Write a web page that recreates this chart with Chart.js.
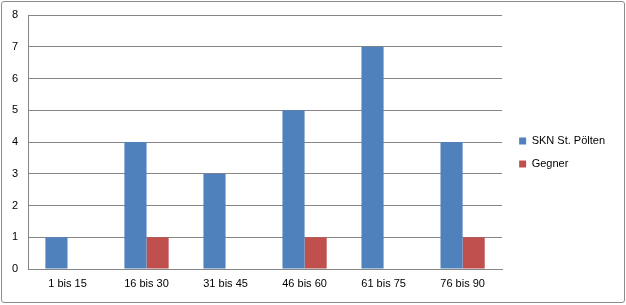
<!DOCTYPE html>
<html>
<head>
<meta charset="utf-8">
<script src="https://cdn.jsdelivr.net/npm/chart.js@4/dist/chart.umd.min.js"></script>
<style>
  body { margin: 0; background: #fff; }
  #box { position: absolute; left: 1px; top: 1px; width: 622px; height: 300px; border: 1px solid #8c8c8c; border-radius: 3px; }
</style>
</head>
<body>
<div id="box"><canvas id="chart" width="622" height="300"></canvas></div>
<script>
const categories = ['1 bis 15', '16 bis 30', '31 bis 45', '46 bis 60', '61 bis 75', '76 bis 90'];
const sknValues = [1, 4, 3, 5, 7, 4];
const gegnerValues = [0, 1, 0, 1, 0, 1];
const yTicks = [0, 1, 2, 3, 4, 5, 6, 7, 8];

const font = { family: 'Liberation Sans', size: 11 };

// nudge the legend a bit to the right, like the original
const legendShift = {
  id: 'legendShift',
  afterLayout(chart) {
    const l = chart.legend;
    l.left += 5; l.right += 5;
    l.top += 1; l.bottom += 1;
  }
};

const ctx = document.getElementById('chart').getContext('2d');
const chart = new Chart(ctx, {
  type: 'bar',
  data: {
    labels: categories,
    datasets: [
      {
        label: 'SKN St. Pölten',
        data: sknValues,
        backgroundColor: '#4F81BD',
        categoryPercentage: 0.56,
        barPercentage: 1.0
      },
      {
        label: 'Gegner',
        data: gegnerValues,
        backgroundColor: '#C0504D',
        categoryPercentage: 0.56,
        barPercentage: 1.0
      }
    ]
  },
  options: {
    responsive: false,
    animation: false,
    layout: { padding: { top: 13, right: 14, bottom: 14, left: 0 } },
    plugins: {
      legend: {
        position: 'right',
        labels: {
          font: font,
          color: '#000',
          boxWidth: 7,
          boxHeight: 7,
          padding: 12
        }
      },
      tooltip: { enabled: false }
    },
    scales: {
      x: {
        grid: { display: false, drawTicks: false },
        border: { color: '#868686' },
        ticks: { font: font, color: '#000', padding: 8, maxRotation: 0 },
        afterFit: s => { s.height = 19; }
      },
      y: {
        min: yTicks[0],
        max: yTicks[yTicks.length - 1],
        grid: { color: '#868686', drawTicks: false },
        border: { color: '#868686' },
        ticks: { font: font, color: '#000', stepSize: 1, padding: 10 },
        afterFit: s => { s.width = 26; s.paddingTop = 0; s.paddingBottom = 0; }
      }
    }
  },
  plugins: [legendShift]
});
</script>
</body>
</html>
